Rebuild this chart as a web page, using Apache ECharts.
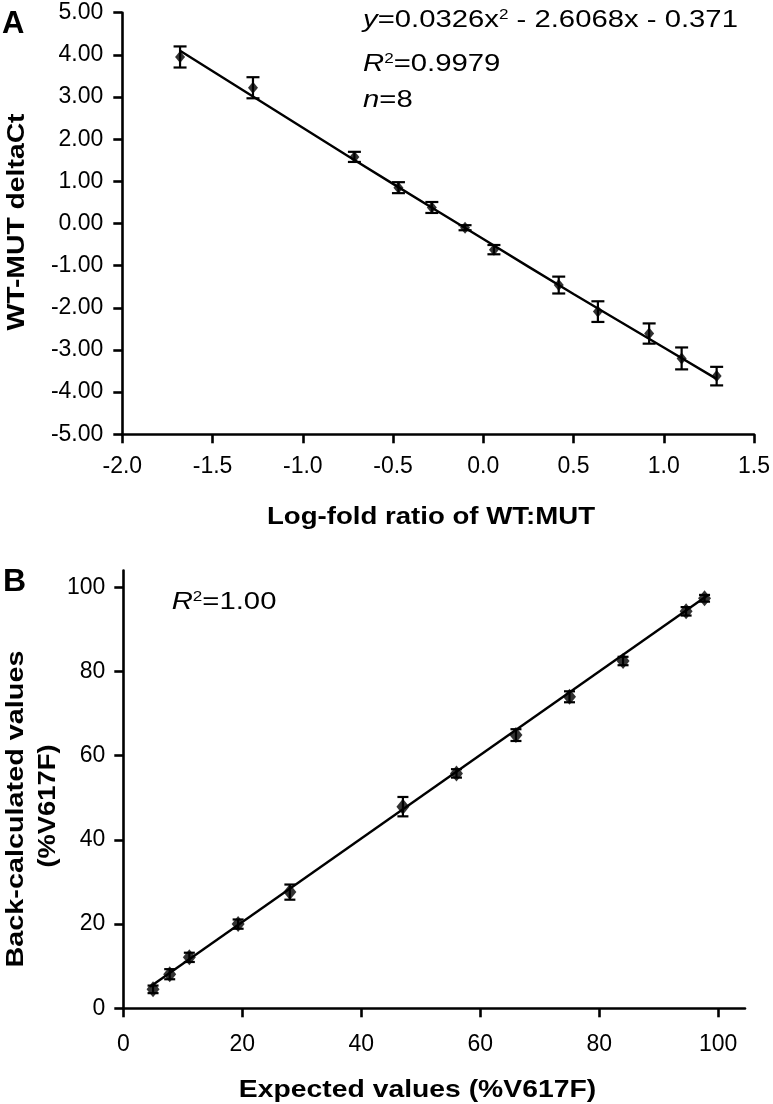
<!DOCTYPE html>
<html><head><meta charset="utf-8">
<script src="https://cdn.jsdelivr.net/npm/echarts@6/dist/echarts.min.js"></script>
<style>html,body{margin:0;padding:0;background:#fff}#c{width:773px;height:1104px}</style>
</head><body><div id="c"></div>
<script>
// ---------- Panel A data ----------
const aX   = [-1.680, -1.276, -0.714, -0.470, -0.285, -0.101, 0.059, 0.418, 0.635, 0.919, 1.099, 1.293];
const aY   = [3.95, 3.22, 1.58, 0.85, 0.38, -0.10, -0.62, -1.46, -2.09, -2.61, -3.20, -3.62];
const aErr = [0.25, 0.25, 0.12, 0.13, 0.13, 0.06, 0.11, 0.20, 0.245, 0.24, 0.26, 0.22];
const aFitX = [-1.68, -1.0, -0.5, 0.0, 0.5, 1.0, 1.29];
const aFitY = [4.10, 2.27, 0.94, -0.37, -1.67, -2.94, -3.68];
const aXRange = [-2, 1.5], aXStep = 0.5;
const aYRange = [-5, 5], aYStep = 1;

// ---------- Panel B data ----------
const bX   = [5.0, 7.8, 11.1, 19.3, 28.0, 47.0, 56.0, 66.0, 75.0, 84.0, 94.6, 97.7];
const bY   = [4.5, 8.1, 12.1, 20.0, 27.6, 47.9, 55.8, 64.9, 74.0, 82.5, 94.3, 97.4];
const bErr = [0.9, 1.2, 1.1, 1.1, 1.8, 2.3, 1.0, 1.4, 1.3, 1.0, 1.0, 0.8];
const bFitX = [4.5, 98.3];
const bFitY = [5.1, 98.2];
const bTicks = [0, 20, 40, 60, 80, 100];
const bXMax = 104.5, bYMax = 104;

// ---------- texts ----------
const aTitleX = 'Log-fold ratio of WT:MUT';
const aTitleY = 'WT-MUT deltaCt';
const bTitleX = 'Expected values (%V617F)';
const bTitleY1 = 'Back-calculated values';
const bTitleY2 = '(%V617F)';

const FONT = 'Liberation Sans, Arial, Helvetica, sans-serif';
const BLACK = '#000';

function pairs(xs, ys){ return xs.map((x,i)=>[x, ys[i]]); }
function errData(xs, ys, es){ return xs.map((x,i)=>[x, ys[i]-es[i], ys[i]+es[i]]); }

function errRender(halfW){
  return function(params, api){
    const x = api.value(0), lo = api.value(1), hi = api.value(2);
    const p1 = api.coord([x, hi]), p2 = api.coord([x, lo]);
    const st = {stroke: BLACK, lineWidth: 2.2};
    return {type:'group', children:[
      {type:'line', shape:{x1:p1[0], y1:p1[1], x2:p2[0], y2:p2[1]}, style: st},
      {type:'line', shape:{x1:p1[0]-halfW, y1:p1[1], x2:p1[0]+halfW, y2:p1[1]}, style: st},
      {type:'line', shape:{x1:p2[0]-halfW, y1:p2[1], x2:p2[0]+halfW, y2:p2[1]}, style: st}
    ]};
  };
}

const axisLineStyle = {show:true, onZero:false, lineStyle:{color:BLACK, width:2.6}};
const axisTickStyle = {show:true, inside:false, length:9, lineStyle:{color:BLACK, width:2.6}};
const labelBase = {color:BLACK, fontFamily:FONT, fontSize:23};

function gtext(opts){
  const s = Object.assign({fill:BLACK, fontFamily:FONT, textAlign:'center', textVerticalAlign:'middle',
    align:'center', verticalAlign:'middle'}, opts.style);
  return Object.assign({type:'text', z:100}, opts, {style:s});
}

const option = {
  animation: false,
  backgroundColor: '#fff',
  grid: [
    {left:122.3, top:12.7, width:633.4, height:421.6},
    {left:123.3, top:570.5, width:621.7, height:437.8}
  ],
  xAxis: [
    {gridIndex:0, type:'value', min:aXRange[0], max:aXRange[1], interval:aXStep,
     axisLine:axisLineStyle, axisTick:axisTickStyle, splitLine:{show:false},
     axisLabel:Object.assign({margin:21, formatter:v=>v.toFixed(1)}, labelBase)},
    {gridIndex:1, type:'value', min:0, max:bXMax,
     axisLine:axisLineStyle, axisTick:Object.assign({customValues:bTicks}, axisTickStyle), splitLine:{show:false},
     axisLabel:Object.assign({margin:25, customValues:bTicks, formatter:v=>String(v)}, labelBase)}
  ],
  yAxis: [
    {gridIndex:0, type:'value', min:aYRange[0], max:aYRange[1], interval:aYStep,
     axisLine:axisLineStyle, axisTick:axisTickStyle, splitLine:{show:false},
     axisLabel:Object.assign({margin:19, formatter:v=>v.toFixed(2)}, labelBase)},
    {gridIndex:1, type:'value', min:0, max:bYMax,
     axisLine:axisLineStyle, axisTick:Object.assign({customValues:bTicks}, axisTickStyle), splitLine:{show:false},
     axisLabel:Object.assign({margin:18, customValues:bTicks, formatter:v=>String(v)}, labelBase)}
  ],
  series: [
    {type:'line', xAxisIndex:0, yAxisIndex:0, data:pairs(aFitX, aFitY), smooth:true, showSymbol:false,
     lineStyle:{color:BLACK, width:2.4}, z:2, silent:true},
    {type:'custom', xAxisIndex:0, yAxisIndex:0, data:errData(aX, aY, aErr), renderItem:errRender(6.5),
     encode:{x:0, y:[1,2]}, z:3, silent:true},
    {type:'scatter', xAxisIndex:0, yAxisIndex:0, data:pairs(aX, aY), symbol:'diamond', symbolSize:[10,12],
     itemStyle:{color:BLACK}, z:4, silent:true},

    {type:'line', xAxisIndex:1, yAxisIndex:1, data:pairs(bFitX, bFitY), showSymbol:false,
     lineStyle:{color:BLACK, width:2.4}, z:2, silent:true},
    {type:'custom', xAxisIndex:1, yAxisIndex:1, data:errData(bX, bY, bErr), renderItem:errRender(5.5),
     encode:{x:0, y:[1,2]}, z:3, silent:true},
    {type:'scatter', xAxisIndex:1, yAxisIndex:1, data:pairs(bX, bY), symbol:'diamond', symbolSize:[13,16],
     itemStyle:{color:BLACK}, z:4, silent:true}
  ],
  graphic: [
    gtext({x:2, y:24, style:{text:'A', fontSize:31, fontWeight:'bold', textAlign:'left', align:'left'}}),
    gtext({x:3, y:582, style:{text:'B', fontSize:32, fontWeight:'bold', textAlign:'left', align:'left'}}),
    gtext({x:431, y:517, scaleX:1.15, style:{text:aTitleX, fontSize:24, fontWeight:'bold'}}),
    gtext({x:417.5, y:1090, scaleX:1.18, style:{text:bTitleX, fontSize:24, fontWeight:'bold'}}),
    gtext({x:17, y:222, rotation:Math.PI/2, scaleX:1.18, style:{text:aTitleY, fontSize:24, fontWeight:'bold'}}),
    gtext({x:16, y:809, rotation:Math.PI/2, scaleX:1.2, style:{text:bTitleY1, fontSize:24, fontWeight:'bold'}}),
    gtext({x:48, y:806, rotation:Math.PI/2, scaleX:1.14, style:{text:bTitleY2, fontSize:24, fontWeight:'bold'}}),
    gtext({x:363, y:20, scaleX:1.22, style:{text:'{i|y}=0.0326x{s|2} - 2.6068x - 0.371', fontSize:24,
      textAlign:'left', align:'left',
      rich:{i:{fontStyle:'italic', fontSize:24, fontFamily:FONT, fill:BLACK, color:BLACK},
            s:{fontSize:14, fontFamily:FONT, verticalAlign:'top', fill:BLACK, color:BLACK}}}}),
    gtext({x:363, y:64, scaleX:1.22, style:{text:'{i|R}{s|2}=0.9979', fontSize:24, textAlign:'left', align:'left',
      rich:{i:{fontStyle:'italic', fontSize:24, fontFamily:FONT, fill:BLACK, color:BLACK},
            s:{fontSize:14, fontFamily:FONT, verticalAlign:'top', fill:BLACK, color:BLACK}}}}),
    gtext({x:363, y:100, scaleX:1.22, style:{text:'{i|n}=8', fontSize:24, textAlign:'left', align:'left',
      rich:{i:{fontStyle:'italic', fontSize:24, fontFamily:FONT, fill:BLACK, color:BLACK}}}}),
    gtext({x:171.7, y:602, scaleX:1.22, style:{text:'{i|R}{s|2}=1.00', fontSize:24, textAlign:'left', align:'left',
      rich:{i:{fontStyle:'italic', fontSize:24, fontFamily:FONT, fill:BLACK, color:BLACK},
            s:{fontSize:14, fontFamily:FONT, verticalAlign:'top', fill:BLACK, color:BLACK}}}})
  ]
};

const chart = echarts.init(document.getElementById('c'), null, {renderer:'canvas'});
chart.setOption(option);
</script>
</body></html>
